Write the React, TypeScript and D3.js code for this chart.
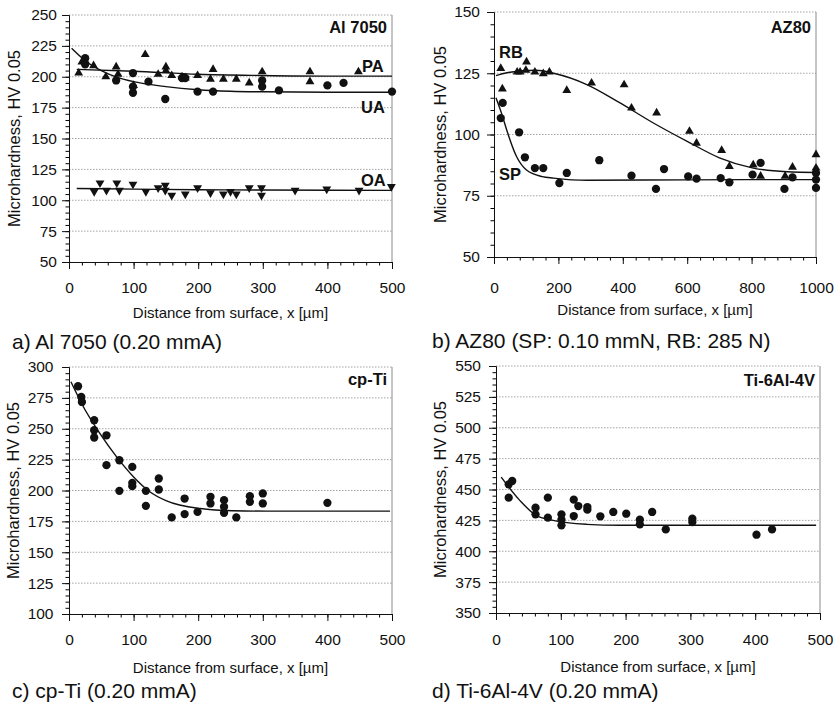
import React, { useEffect, useRef } from "react";
import * as d3 from "d3";

type Pt = [number, number];

// ---- a) Al 7050 ----
const alPA: Pt[] = [
  [15, 203], [20, 212], [25, 213], [38, 209], [57, 200], [73, 208], [76, 202], [100, 193],
  [118, 218], [138, 202], [150, 208], [150, 205], [159, 201], [175, 200], [180, 199],
  [199, 201], [219, 198], [223, 206], [239, 198], [259, 198], [279, 195], [299, 204],
  [373, 204], [373, 196], [448, 204],
];
const alUA: Pt[] = [
  [25, 215], [25, 210], [73, 197], [99, 203], [99, 192], [99, 187], [123, 196], [149, 182],
  [175, 199], [180, 199], [199, 188], [223, 188], [299, 197], [299, 192], [325, 189],
  [400, 193], [425, 195], [500, 188],
];
const alOA: Pt[] = [
  [39, 107], [48, 114], [58, 108], [74, 114], [78, 108], [99, 113], [119, 107], [138, 110],
  [149, 112], [149, 108], [159, 104], [180, 105], [199, 110], [219, 106], [239, 105],
  [250, 107], [259, 105], [279, 110], [298, 110], [298, 104], [350, 108], [399, 109],
  [449, 108], [499, 111],
];
const alPAFit: Pt[] = [[12, 206], [100, 204.5], [200, 202], [300, 201], [400, 200.5], [500, 200.5]];
const alUAFit: Pt[] = [
  [4, 223], [25, 213], [50, 205], [75, 199.5], [100, 196], [150, 192], [200, 189.5],
  [250, 188.3], [300, 187.8], [400, 187.5], [500, 187.5],
];
const alOAFit: Pt[] = [[12, 109.5], [100, 109], [200, 108.5], [300, 108.3], [500, 108]];

// ---- b) AZ80 ----
const azRB: Pt[] = [
  [21, 127], [26, 118.6], [72, 125.5], [81, 125.5], [99, 126.2], [101, 129.6], [127, 125.5],
  [153, 124.8], [172, 125.5], [226, 118], [303, 121], [404, 120.3], [427, 110.8], [505, 108.8],
  [607, 101.3], [629, 96.5], [707, 93.5], [731, 87], [805, 87.6], [828, 83], [904, 83],
  [927, 86.7], [1000, 91.8], [1000, 86.3],
];
const azSP: Pt[] = [
  [21, 106.7], [27, 112.9], [78, 100.9], [96, 90.7], [127, 86.3], [153, 86.3], [203, 80.2],
  [226, 84.3], [327, 89.5], [427, 83.2], [503, 77.8], [528, 85.9], [603, 82.9], [629, 82],
  [704, 82.2], [731, 80.5], [803, 83.6], [828, 88.4], [902, 77.8], [927, 82.5],
  [1000, 84.3], [1000, 81.6], [1000, 78.2],
];
const azRBFit: Pt[] = [
  [6, 124], [40, 125.2], [130, 126.2], [185, 125], [290, 120.3], [390, 113], [495, 104.7],
  [600, 97.2], [700, 90.5], [805, 86.3], [910, 84.8], [1000, 84.5],
];
const azSPFit: Pt[] = [
  [6, 115], [25, 108], [40, 101.6], [70, 91], [100, 85.6], [150, 82.8], [185, 82.2],
  [290, 81.3], [600, 81.5], [1000, 81.6],
];

// ---- c) cp-Ti ----
const cpTi: Pt[] = [
  [14, 284.4], [19, 275.7], [20, 271.7], [39, 256.9], [39, 248.8], [39, 242.9], [58, 244.7],
  [58, 220.5], [78, 224.5], [78, 199.7], [98, 219.1], [98, 206.2], [98, 203.5], [119, 199.7],
  [119, 187.6], [139, 209.7], [139, 200.8], [159, 178.2], [179, 193.5], [179, 180.9],
  [199, 182.7], [219, 194.9], [219, 189.5], [240, 192.2], [240, 186.8], [240, 181.9],
  [259, 178.2], [280, 195.4], [280, 190.8], [300, 197.6], [300, 189.5], [400, 190],
];
const cpTiFit: Pt[] = [
  [3, 288], [22, 268], [48, 246], [74, 227], [100, 211], [125, 199], [151, 191.6],
  [203, 185.4], [254, 183.6], [306, 183.3], [497, 183.3],
];

// ---- d) Ti-6Al-4V ----
const ti64: Pt[] = [
  [19.6, 454.2], [19.6, 443.4], [25, 456.9], [61, 435.3], [61, 429.9], [80, 443.4], [80, 427.2],
  [101, 429.9], [101, 425.6], [101, 421], [120, 441.8], [120, 428.5], [127, 436.6],
  [141, 435.8], [141, 433.7], [161, 428.3], [181, 431.8], [201, 430.4], [222, 425.6],
  [222, 421.8], [241, 431.8], [262, 417.7], [303, 426.4], [303, 423.7], [402, 413.4],
  [426, 417.7],
];
const ti64Fit: Pt[] = [[8, 460], [37, 441], [62, 429], [88, 425], [140, 421.8], [191, 421], [494, 421]];

// tick values
const xTicks500 = [0, 100, 200, 300, 400, 500];
const xTicks1000 = [0, 200, 400, 600, 800, 1000];
const alYTicks = [50, 75, 100, 125, 150, 175, 200, 225, 250];
const azYTicks = [50, 75, 100, 125, 150];
const cpYTicks = [100, 125, 150, 175, 200, 225, 250, 275, 300];
const tiYTicks = [350, 375, 400, 425, 450, 475, 500, 525, 550];

const FONT = "'Liberation Sans', Arial, Helvetica, sans-serif";

type Series = { pts: Pt[]; marker: "circle" | "up" | "down" };
type Label = { text: string; x: number; y: number; anchor: string };
type PanelCfg = {
  left: number; right: number; top: number; bottom: number;
  xDomain: [number, number]; yDomain: [number, number];
  xTicks: number[]; yTicks: number[]; xMinor: number; yMinor: number;
  xPad: number; yPad: number; xTitleY: number; yTitleX: number;
  series: Series[]; fits: Pt[][]; labels: Label[];
  caption: string; captionX: number; captionY: number;
};

const panels: PanelCfg[] = [
  {
    left: 69, right: 392, top: 15, bottom: 262, xDomain: [0, 500], yDomain: [50, 250],
    xTicks: xTicks500, yTicks: alYTicks, xMinor: 20, yMinor: 5, xPad: 12.5, yPad: 5,
    xTitleY: 318, yTitleX: 19.5,
    series: [{ pts: alPA, marker: "up" }, { pts: alUA, marker: "circle" }, { pts: alOA, marker: "down" }],
    fits: [alPAFit, alUAFit, alOAFit],
    labels: [
      { text: "Al 7050", x: 387, y: 33, anchor: "end" },
      { text: "PA", x: 362, y: 71.5, anchor: "start" },
      { text: "UA", x: 361, y: 113, anchor: "start" },
      { text: "OA", x: 361, y: 186, anchor: "start" },
    ],
    caption: "a) Al 7050 (0.20 mmA)", captionX: 12, captionY: 349,
  },
  {
    left: 494, right: 816, top: 12, bottom: 257, xDomain: [0, 1000], yDomain: [50, 150],
    xTicks: xTicks1000, yTicks: azYTicks, xMinor: 40, yMinor: 5, xPad: 18, yPad: 7,
    xTitleY: 314.5, yTitleX: 446,
    series: [{ pts: azRB, marker: "up" }, { pts: azSP, marker: "circle" }],
    fits: [azRBFit, azSPFit],
    labels: [
      { text: "AZ80", x: 811, y: 32.5, anchor: "end" },
      { text: "RB", x: 499, y: 58, anchor: "start" },
      { text: "SP", x: 499, y: 180, anchor: "start" },
    ],
    caption: "b) AZ80 (SP: 0.10 mmN, RB: 285 N)", captionX: 432, captionY: 348,
  },
  {
    left: 69, right: 392, top: 367, bottom: 614, xDomain: [0, 500], yDomain: [100, 300],
    xTicks: xTicks500, yTicks: cpYTicks, xMinor: 20, yMinor: 5, xPad: 13, yPad: 8.5,
    xTitleY: 673, yTitleX: 18.5,
    series: [{ pts: cpTi, marker: "circle" }],
    fits: [cpTiFit],
    labels: [{ text: "cp-Ti", x: 387, y: 385, anchor: "end" }],
    caption: "c) cp-Ti (0.20 mmA)", captionX: 12, captionY: 698,
  },
  {
    left: 496, right: 820, top: 366, bottom: 613, xDomain: [0, 500], yDomain: [350, 550],
    xTicks: xTicks500, yTicks: tiYTicks, xMinor: 20, yMinor: 5, xPad: 14, yPad: 8,
    xTitleY: 671.5, yTitleX: 445.5,
    series: [{ pts: ti64, marker: "circle" }],
    fits: [ti64Fit],
    labels: [{ text: "Ti-6Al-4V", x: 815, y: 386, anchor: "end" }],
    caption: "d) Ti-6Al-4V (0.20 mmA)", captionX: 432, captionY: 698,
  },
];

const drawPanel = (svg: d3.Selection<SVGSVGElement, unknown, null, undefined>, p: PanelCfg) => {
  const x = d3.scaleLinear().domain(p.xDomain).range([p.left, p.right]);
  const y = d3.scaleLinear().domain(p.yDomain).range([p.bottom, p.top]);
  const g = svg.append("g");

  // dotted gridlines
  g.selectAll(".grid")
    .data(p.yTicks.slice(1))
    .join("line")
    .attr("x1", p.left).attr("x2", p.right)
    .attr("y1", (d) => y(d)).attr("y2", (d) => y(d))
    .attr("stroke", "#9a9a9a").attr("stroke-width", 0.9)
    .attr("stroke-dasharray", "1.5,1.5");

  // right border
  g.append("line")
    .attr("x1", p.right).attr("x2", p.right).attr("y1", p.top).attr("y2", p.bottom)
    .attr("stroke", "#8a8a8a").attr("stroke-width", 1);

  // minor ticks
  const xMinor = d3.range(p.xDomain[0], p.xDomain[1] + 1e-6, p.xMinor);
  const yMinor = d3.range(p.yDomain[0], p.yDomain[1] + 1e-6, p.yMinor);
  g.append("g")
    .attr("transform", `translate(0,${p.bottom})`)
    .call(d3.axisBottom(x).tickValues(xMinor).tickSize(3.5).tickSizeOuter(0).tickFormat(() => ""));
  g.append("g")
    .attr("transform", `translate(${p.left},0)`)
    .call(d3.axisLeft(y).tickValues(yMinor).tickSize(3.5).tickSizeOuter(0).tickFormat(() => ""));

  // major ticks + labels
  const xAxis = g.append("g")
    .attr("transform", `translate(0,${p.bottom})`)
    .call(d3.axisBottom(x).tickValues(p.xTicks).tickSize(7).tickSizeOuter(0).tickPadding(p.xPad).tickFormat(d3.format("d")));
  const yAxis = g.append("g")
    .attr("transform", `translate(${p.left},0)`)
    .call(d3.axisLeft(y).tickValues(p.yTicks).tickSize(7).tickSizeOuter(0).tickPadding(p.yPad).tickFormat(d3.format("d")));
  [xAxis, yAxis].forEach((a) => {
    a.attr("font-family", FONT).attr("font-size", 15.5);
    a.selectAll("text").attr("fill", "#111");
    a.selectAll("line, path").attr("stroke", "#111");
  });

  // fitted curves
  const line = d3.line<Pt>().x((d) => x(d[0])).y((d) => y(d[1])).curve(d3.curveMonotoneX);
  p.fits.forEach((f) => {
    g.append("path").datum(f).attr("d", line).attr("fill", "none")
      .attr("stroke", "#111").attr("stroke-width", 1.4);
  });

  // markers
  p.series.forEach((s) => {
    const sym = d3.symbol()
      .type(s.marker === "circle" ? d3.symbolCircle : d3.symbolTriangle)
      .size(s.marker === "circle" ? 54 : 34);
    g.selectAll(null)
      .data(s.pts)
      .join("path")
      .attr("d", sym() as string)
      .attr("transform", (d) =>
        `translate(${x(d[0])},${y(d[1])})${s.marker === "down" ? " rotate(180)" : ""}`)
      .attr("fill", "#111");
  });

  // panel labels
  p.labels.forEach((l) => {
    g.append("text").text(l.text).attr("x", l.x).attr("y", l.y).attr("text-anchor", l.anchor)
      .attr("font-family", FONT).attr("font-size", 16.5).attr("font-weight", "bold").attr("fill", "#111");
  });

  // axis titles
  g.append("text").text("Distance from surface, x [µm]")
    .attr("x", (p.left + p.right) / 2).attr("y", p.xTitleY).attr("text-anchor", "middle")
    .attr("font-family", FONT).attr("font-size", 15).attr("fill", "#111");
  g.append("text").text("Microhardness, HV 0.05")
    .attr("transform", `translate(${p.yTitleX},${(p.top + p.bottom) / 2}) rotate(-90)`)
    .attr("text-anchor", "middle")
    .attr("font-family", FONT).attr("font-size", 16.5).attr("fill", "#111");

  // caption
  g.append("text").text(p.caption).attr("x", p.captionX).attr("y", p.captionY)
    .attr("font-family", FONT).attr("font-size", 21).attr("fill", "#111");
};

const App = () => {
  const svgRef = useRef<SVGSVGElement | null>(null);

  useEffect(() => {
    if (!svgRef.current) return;
    const svg = d3.select(svgRef.current);
    svg.selectAll("*").remove();
    svg.append("rect").attr("width", 836).attr("height", 711).attr("fill", "#fff");
    panels.forEach((p) => drawPanel(svg, p));
  }, []);

  return (
    <svg
      ref={svgRef}
      width={836}
      height={711}
      style={{ position: "absolute", left: 0, top: 0, display: "block" }}
    ></svg>
  );
};

export default App;
